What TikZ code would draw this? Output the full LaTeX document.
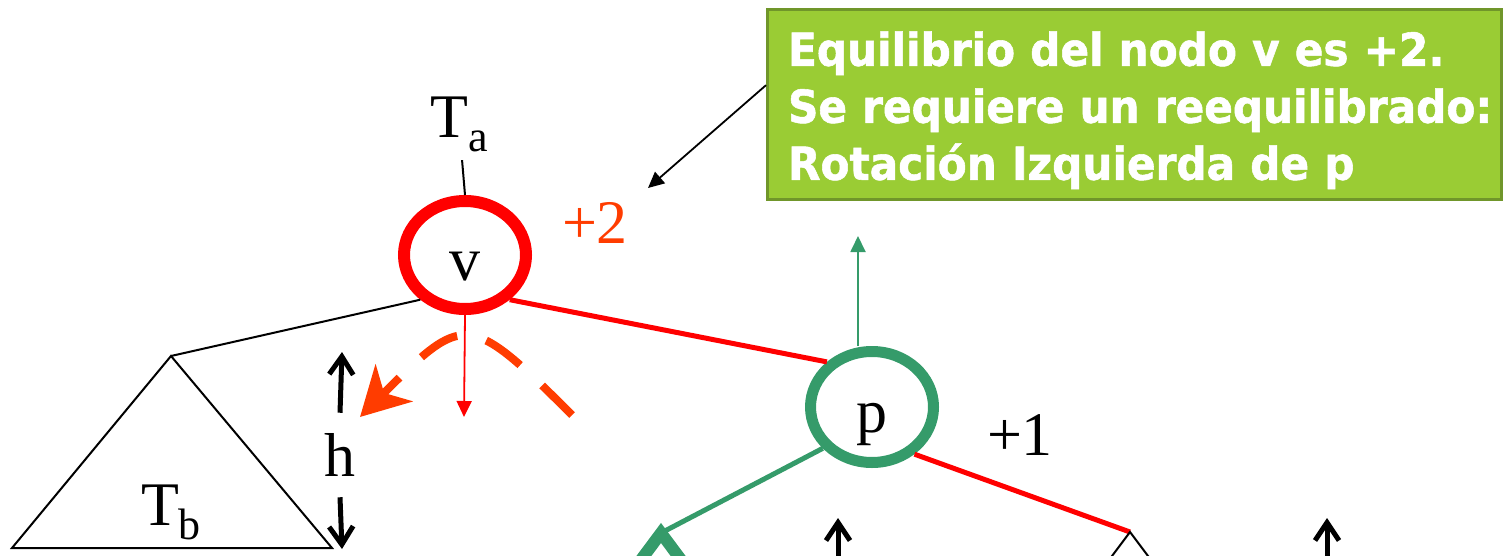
\documentclass[tikz,border=0pt]{standalone}
\usepackage{fontspec}
\setmainfont{Liberation Serif}
\newfontfamily\notefont[FakeStretch=0.93,BoldFeatures={FakeBold=1.2}]{DejaVu Sans}
\usepackage{tikz}
\usetikzlibrary{arrows.meta,shapes.geometric}
\definecolor{ringred}{RGB}{255,0,0}
\definecolor{balorange}{RGB}{255,60,0}
\definecolor{ringgreen}{RGB}{53,155,106}
\definecolor{notegreen}{RGB}{154,204,52}
\definecolor{noteedge}{RGB}{112,150,42}
\tikzset{every picture/.style={line width=0.75pt}}
\newcommand{\treesub}[1]{\raisebox{-7pt}{\fontsize{22}{24}\selectfont #1}}

\begin{document}
\begin{tikzpicture}[x=0.5pt,y=0.5pt,yscale=-1,xscale=1,
  serif/.style={font=\fontsize{31}{36}\selectfont, inner sep=0pt},
  ring/.style={ellipse, draw, line width=6pt, minimum width=61pt, minimum height=54pt,
    inner sep=0pt, text height=25pt, text depth=0pt, font=\fontsize{31}{36}\selectfont},
  redline/.style={draw=ringred, line width=2.5pt},
  greenline/.style={draw=ringgreen, line width=2.5pt},
  hline/.style={line width=2.5pt, -{Straight Barb[length=9pt,width=12pt]}},
  thinarrow/.style={line width=0.9pt, -{Triangle[length=8pt,width=7.5pt]}},
  notebox/.style={draw=noteedge, fill=notegreen, line width=1.5pt, text=white,
    font=\notefont\bfseries\fontsize{22.7}{28.5}\selectfont, align=left,
    text width=346.5pt, inner xsep=10.25pt, inner ysep=0pt, minimum height=95pt}]
%set diagram frame
\useasboundingbox (0,0) rectangle (1509,556);
\clip (0,0) rectangle (1509,556);

%Nodes
\node[ring, draw=ringred] (v) at (465,255) {v};
\node[ring, draw=ringgreen, line width=5.5pt, minimum width=61.5pt, minimum height=55.5pt] (p) at (872,407) {p};
\node[serif, anchor=base] (ta) at (459,137) {T\treesub{a}};
\node[serif, anchor=base, text=balorange] (bal2) at (595,243) {+2};
\node[serif, anchor=base] (bal1) at (1020,455) {+1};
\node[serif, anchor=base] (tb) at (171,525) {T\treesub{b}};
\node[serif, inner sep=10pt] (h) at (340,455) {h};
\node[notebox, anchor=north west] (box) at (766,8) {\rule{0pt}{23pt}\mbox{Equilibrio del nodo v es +2.}\\\mbox{Se requiere un reequilibrado:}\\\mbox{Rotación Izquierda de p}};

%Coordinates
\coordinate (tbtop) at (171,356);
\coordinate (tbleft) at (12,548);
\coordinate (tbright) at (332,548);
\coordinate (htop) at (342,352);
\coordinate (hbot) at (342,549);
\coordinate (vdown) at (464,417);
\coordinate (pup) at (858,236);
\coordinate (ltop) at (661,533);
\coordinate (rtop) at (1130,532);
\coordinate (ptwo) at (648,188);
\coordinate (uptipa) at (838,518);
\coordinate (uptipb) at (1327,518);

%Subtree T_b
\draw[line width=1pt] (tbleft) -- (tbtop) -- (tbright) -- cycle;
\draw[line width=1pt] (v.-135) -- (tbtop);
\draw[line width=1pt, shorten <=4pt] (ta) -- (v.north);
%Height h
\draw[hline] (h.north) -- (htop);
\draw[hline] (h.south) -- (hbot);
%Edges of v and p
\draw[redline] (v.-45) -- (p.135);
\draw[redline] (p.-48) -- (rtop);
\draw[greenline] (p.-140) -- (ltop);
\draw[thinarrow, ringred] (v.south) -- (vdown);
\draw[thinarrow, ringgreen] (p.north -| pup) -- (pup);
%Lower subtrees
\draw[ringgreen, line width=6pt, line join=miter] (ltop) +(-41,55) -- (ltop) -- +(41,55);
\draw[line width=1pt] (rtop) +(-30,40) -- (rtop) -- +(30,40);
\draw[hline] (uptipa) ++(0,80) -- (uptipa);
\draw[hline] (uptipb) ++(0,80) -- (uptipb);
%Rotation
\draw[balorange, line width=4pt, dash pattern=on 21pt off 15pt, -{Stealth[length=24pt,width=26pt,inset=7pt]}] (572,415) .. controls (468,311) and (464,313) .. (360,417);
%Note
\draw[thinarrow] (box.177) -- (ptwo);

\end{tikzpicture}
\end{document}
